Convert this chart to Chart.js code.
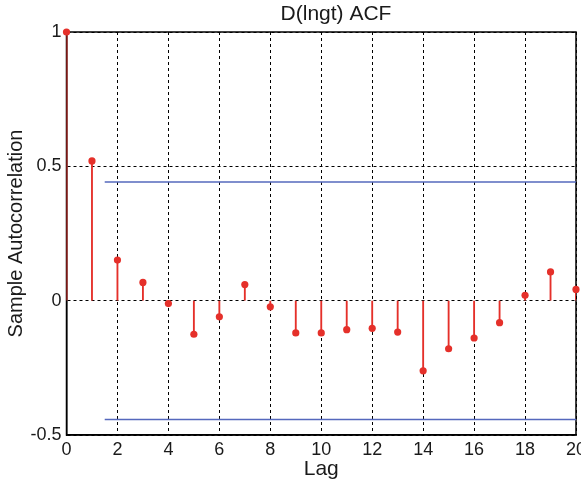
<!DOCTYPE html>
<html>
<head>
<meta charset="utf-8">
<script src="https://cdn.jsdelivr.net/npm/chart.js@4/dist/chart.umd.min.js"></script>
<style>
  html, body { margin: 0; padding: 0; background: #fff; }
  #wrap { width: 581px; height: 482px; }
</style>
</head>
<body>
<div id="wrap"><canvas id="c" width="581" height="482"></canvas></div>
<script>
// Sample autocorrelation of D(lngt) by lag
const lags = [0, 1, 2, 3, 4, 5, 6, 7, 8, 9, 10, 11, 12, 13, 14, 15, 16, 17, 18, 19, 20];
const acf = [1.0, 0.52, 0.151, 0.068, -0.011, -0.125, -0.060, 0.060, -0.023, -0.120, -0.120,
             -0.108, -0.103, -0.117, -0.261, -0.179, -0.139, -0.082, 0.020, 0.107, 0.042];
// approximate confidence bounds, drawn from lag 1.5 to the last lag
const boundLags = [1.5, 20];
const upperBound = [0.442, 0.442];
const lowerBound = [-0.442, -0.442];
const xTicks = [0, 2, 4, 6, 8, 10, 12, 14, 16, 18, 20];
const yTicks = [-0.5, 0, 0.5, 1];

const RED = '#e5302a';
const BLUE = '#5568bd';
const INK = '#1a1a1a';
const FONT = 'Liberation Sans, Arial, Helvetica, sans-serif';

const frameAndTitle = {
  id: 'frameAndTitle',
  beforeDatasetsDraw(chart) {
    const { ctx, chartArea: a } = chart;
    ctx.save();
    ctx.strokeStyle = '#000';
    ctx.lineWidth = 1.5;
    ctx.setLineDash([]);
    ctx.strokeRect(a.left, a.top, a.right - a.left, a.bottom - a.top);
    ctx.restore();
  },
  afterDraw(chart) {
    const { ctx } = chart;
    ctx.save();
    ctx.fillStyle = INK;
    ctx.font = '21px ' + FONT;
    ctx.textAlign = 'center';
    ctx.textBaseline = 'middle';
    ctx.fillText('D(lngt) ACF', 336, 14);
    ctx.restore();
  }
};

new Chart(document.getElementById('c'), {
  type: 'scatter',
  data: {
    datasets: [
      {
        type: 'scatter',
        data: lags.map((l, i) => ({ x: l, y: acf[i] })),
        pointRadius: 3.6,
        pointBackgroundColor: RED,
        pointBorderColor: RED,
        pointBorderWidth: 0,
        clip: false,
        order: 0
      },
      {
        type: 'bar',
        data: lags.map((l, i) => ({ x: l, y: acf[i] })),
        backgroundColor: RED,
        borderWidth: 0,
        barThickness: 1.2,
        order: 1
      },
      {
        type: 'line',
        data: boundLags.map((l, i) => ({ x: l, y: upperBound[i] })),
        borderColor: BLUE,
        borderWidth: 1.5,
        pointRadius: 0,
        fill: false,
        order: 2
      },
      {
        type: 'line',
        data: boundLags.map((l, i) => ({ x: l, y: lowerBound[i] })),
        borderColor: BLUE,
        borderWidth: 1.5,
        pointRadius: 0,
        fill: false,
        order: 2
      }
    ]
  },
  options: {
    responsive: false,
    animation: false,
    events: [],
    layout: { padding: { top: 32, right: 5, left: 0, bottom: 0 } },
    plugins: {
      legend: { display: false },
      tooltip: { enabled: false },
      title: { display: false }
    },
    scales: {
      x: {
        type: 'linear',
        min: 0,
        max: 20,
        offset: false,
        afterBuildTicks: s => { s.ticks = xTicks.map(v => ({ value: v })); },
        afterFit: s => { s.height = 47; s.paddingLeft = 0; s.paddingRight = 0; },
        ticks: {
          color: INK,
          font: { family: FONT, size: 18 },
          padding: 4,
          maxRotation: 0,
          autoSkip: false,
          callback: v => String(v)
        },
        grid: { color: '#000', lineWidth: 1, drawTicks: false, tickLength: 0, offset: false },
        border: { display: true, color: '#000', width: 1.5, dash: [3, 3] },
        title: {
          display: true,
          text: 'Lag',
          color: INK,
          font: { family: FONT, size: 21 },
          padding: { top: 0, bottom: 0 }
        }
      },
      y: {
        type: 'linear',
        min: -0.5,
        max: 1,
        afterBuildTicks: s => { s.ticks = yTicks.map(v => ({ value: v })); },
        afterFit: s => { s.width = 66.5; s.paddingTop = 0; s.paddingBottom = 0; },
        ticks: {
          color: INK,
          font: { family: FONT, size: 18 },
          padding: 5,
          callback: v => String(v)
        },
        grid: { color: '#000', lineWidth: 1, drawTicks: false, tickLength: 0, offset: false },
        border: { display: true, color: '#000', width: 1.5, dash: [3, 3] },
        title: {
          display: true,
          text: 'Sample Autocorrelation',
          color: INK,
          font: { family: FONT, size: 20 },
          padding: { top: 4, bottom: 0 }
        }
      }
    }
  },
  plugins: [frameAndTitle]
});
</script>
</body>
</html>
